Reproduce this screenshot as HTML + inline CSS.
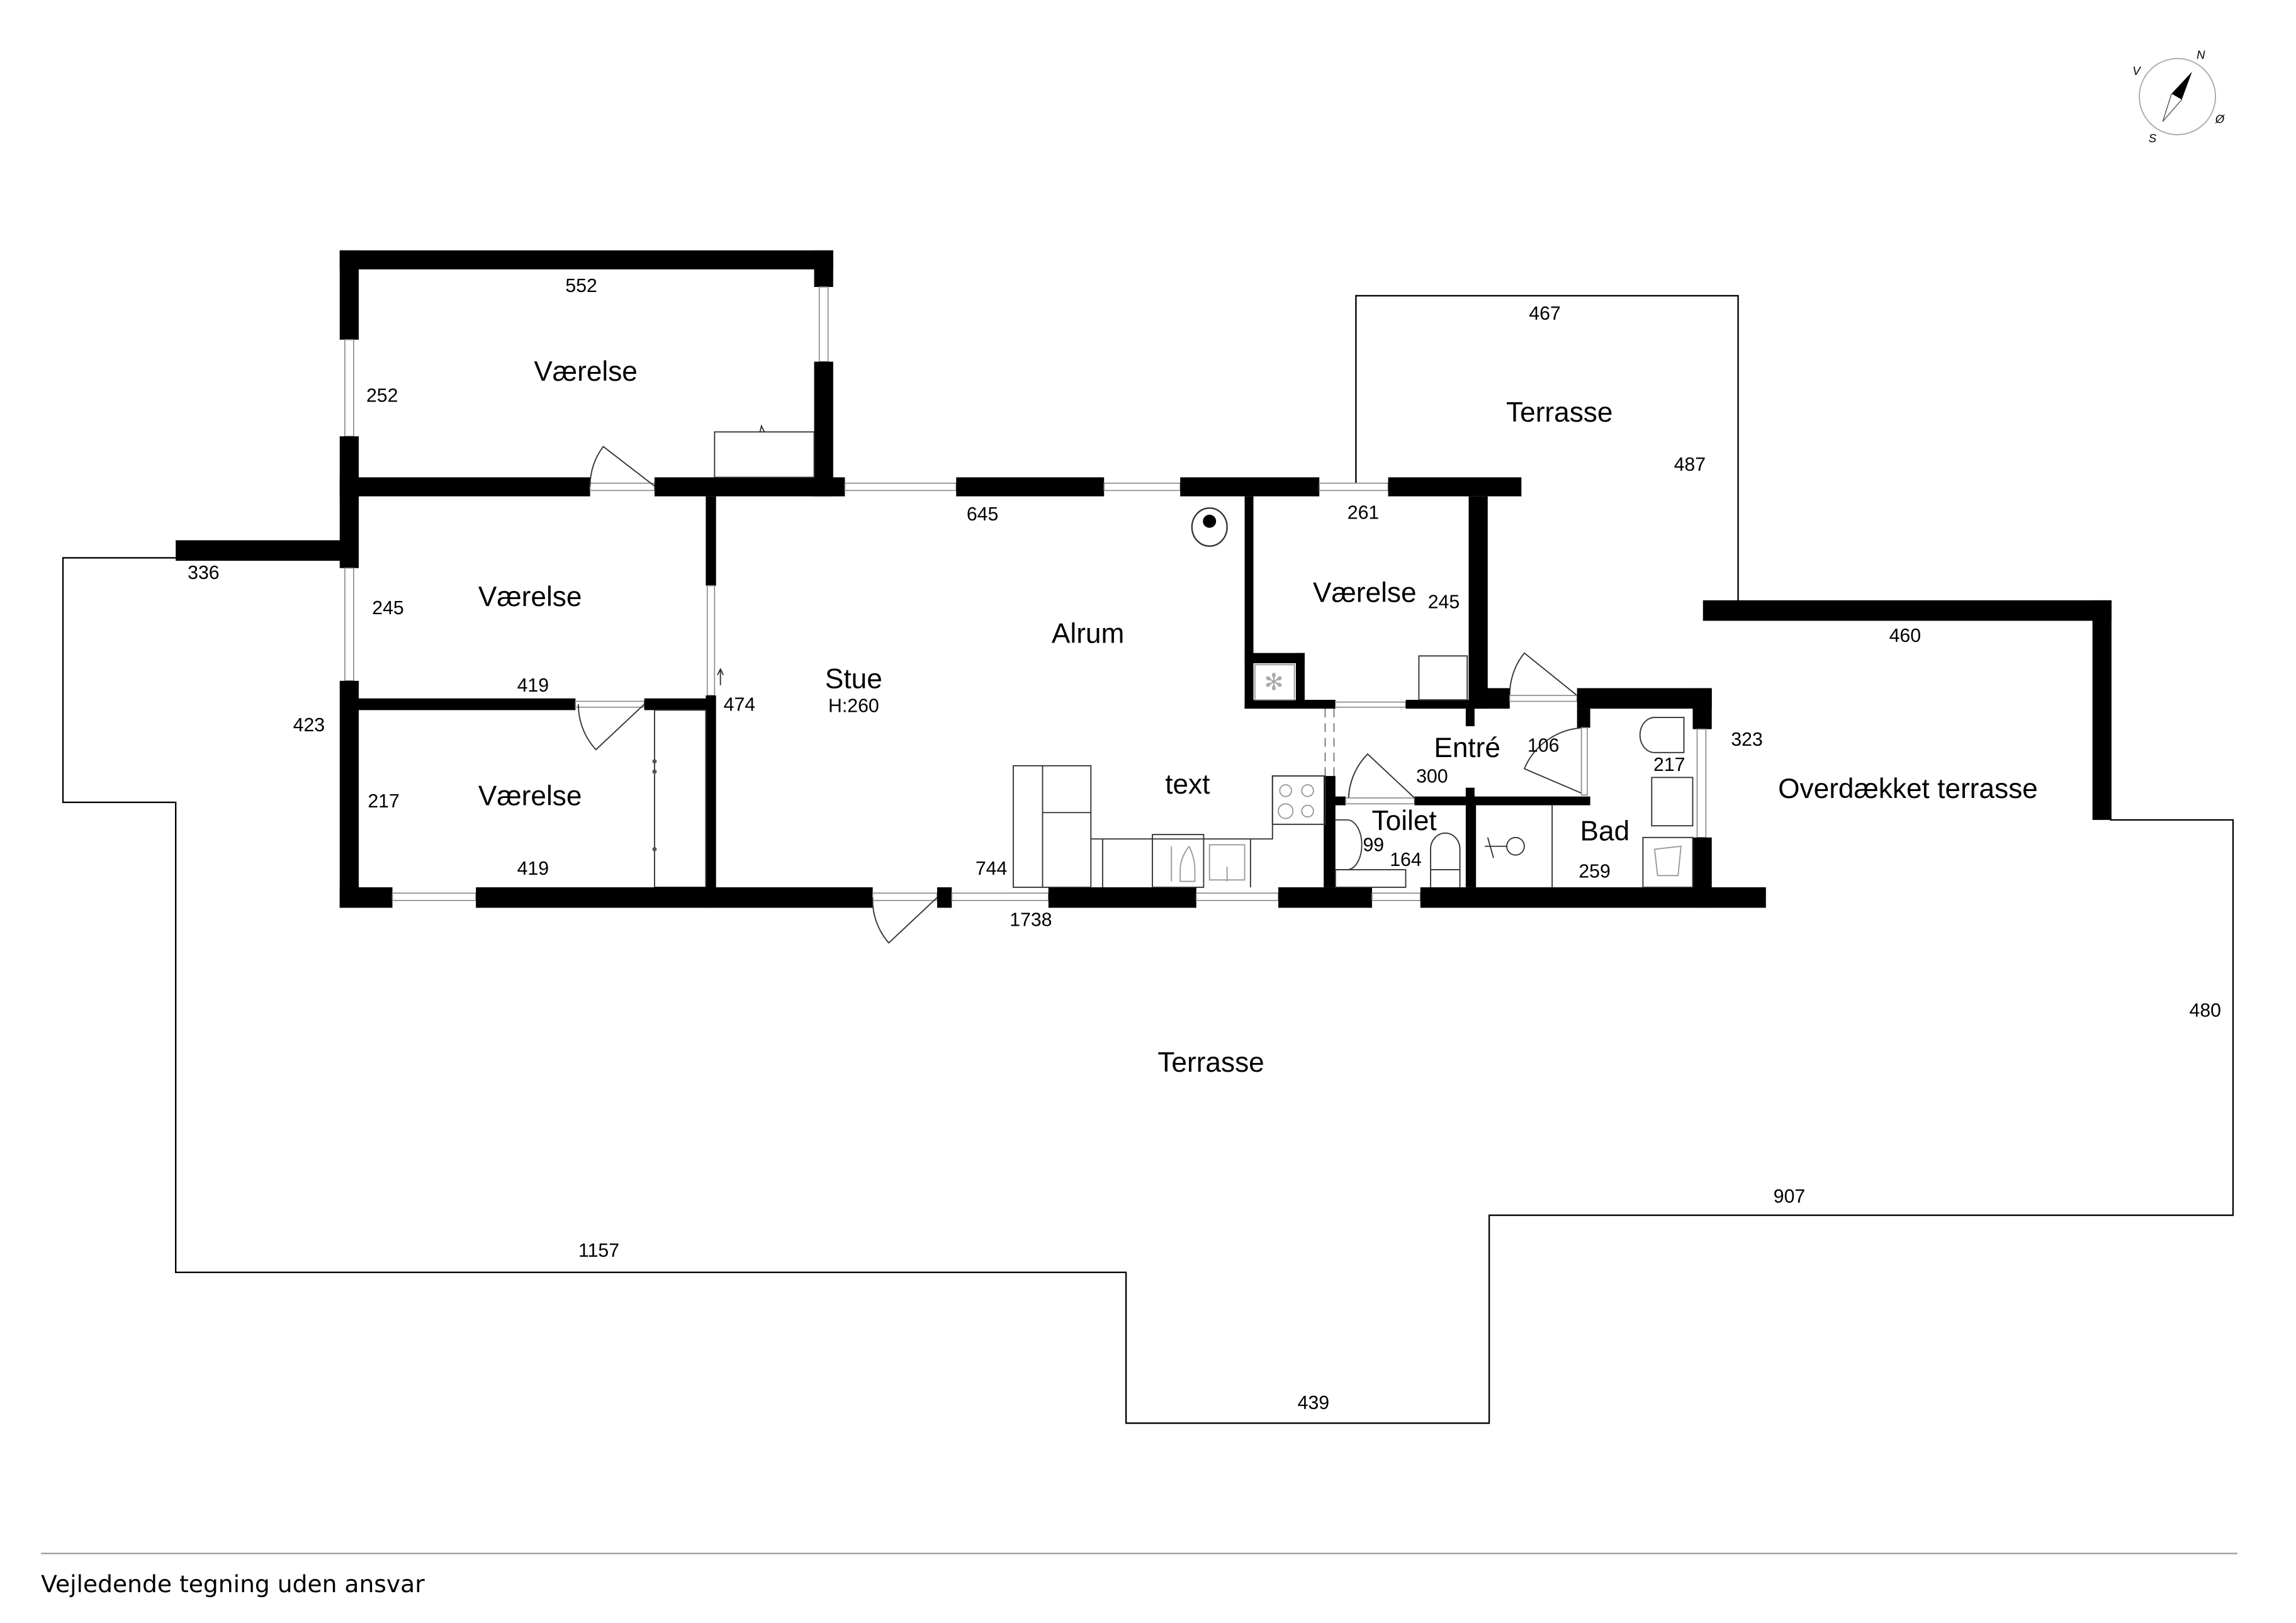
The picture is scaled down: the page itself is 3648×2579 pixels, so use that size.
<!DOCTYPE html>
<html><head><meta charset="utf-8"><style>
html,body{margin:0;padding:0;background:#fff;}
svg{display:block;}
text{font-family:"Liberation Sans",Arial,sans-serif;fill:#000;}
.r{font-size:19px;text-anchor:middle;dominant-baseline:middle;}
.d{font-size:13px;text-anchor:middle;dominant-baseline:middle;}
.w{fill:#000;}
.win{fill:#fff;stroke:#888;stroke-width:0.7;}
.ln{fill:none;stroke:#000;stroke-width:1;}
.th{fill:none;stroke:#333;stroke-width:0.8;}
.gr{fill:none;stroke:#999;stroke-width:0.8;}
</style></head><body>
<svg width="3648" height="2579" viewBox="0 0 1568 1108.5" preserveAspectRatio="none" xmlns="http://www.w3.org/2000/svg">
<rect x="0" y="0" width="1568" height="1108.5" fill="#fff"/>

<!-- outlines -->
<path class="ln" d="M120,381 L43,381 L43,548 L120,548 L120,869 L769,869 L769,972 L1017,972 L1017,830 L1525,830 L1525,560 L1441,560"/>
<path class="ln" d="M926,330 L926,202 L1187,202 L1187,411"/>

<!-- terrace thick wall -->
<rect class="w" x="1163" y="410" width="279" height="14"/>
<rect class="w" x="1429" y="410" width="13" height="150"/>

<!-- top bedroom -->
<rect class="w" x="232" y="171" width="337" height="13"/>
<rect class="w" x="556" y="171" width="13" height="25"/>
<rect class="win" x="559.5" y="196" width="6" height="51"/>
<rect class="w" x="556" y="247" width="13" height="92"/>
<rect class="w" x="232" y="171" width="13" height="61"/>
<rect class="win" x="235.5" y="232" width="6" height="66"/>
<rect class="w" x="232" y="298" width="13" height="90"/>
<rect class="w" x="120" y="369" width="125" height="14"/>
<rect class="win" x="235.5" y="388" width="6" height="77"/>
<rect class="w" x="232" y="465" width="13" height="155"/>

<!-- horizontal wall y326 -->
<rect class="w" x="232" y="326" width="171" height="13"/>
<rect class="win" x="403" y="330" width="44" height="5"/>
<rect class="w" x="447" y="326" width="130" height="13"/>
<rect class="win" x="577" y="330" width="76" height="5"/>
<rect class="w" x="653" y="326" width="101" height="13"/>
<rect class="win" x="754" y="330" width="52" height="5"/>
<rect class="w" x="806" y="326" width="95" height="13"/>
<rect class="win" x="901" y="330" width="47" height="5"/>
<rect class="w" x="948" y="326" width="91" height="13"/>

<!-- closet top room -->
<rect class="th" x="488" y="295" width="68" height="31"/>
<path class="th" d="M519,295 L520,291 L522,295"/>

<!-- stue left wall -->
<rect class="w" x="482" y="339" width="7" height="61"/>
<rect class="win" x="483" y="400" width="5" height="75"/>
<rect class="w" x="482" y="475" width="7" height="145"/>
<path class="th" d="M492,468 L492,458 M490,461 L492,457 L494,461"/>

<!-- bed2/bed3 wall -->
<rect class="w" x="245" y="477" width="148" height="8"/>
<rect class="win" x="393" y="479" width="47" height="4"/>
<rect class="w" x="440" y="477" width="48" height="8"/>
<!-- wardrobe -->
<rect class="th" x="447" y="485" width="35" height="121"/>
<circle cx="447" cy="520" r="1.5" fill="#555"/><circle cx="447" cy="527" r="1.5" fill="#555"/><circle cx="447" cy="580" r="1.5" fill="#555"/>

<!-- bottom wall -->
<rect class="w" x="232" y="606" width="36" height="14"/>
<rect class="win" x="268" y="610" width="57" height="5"/>
<rect class="w" x="325" y="606" width="271" height="14"/>
<rect class="win" x="596" y="610" width="44" height="5"/>
<rect class="w" x="640" y="606" width="10" height="14"/>
<rect class="win" x="650" y="610" width="66" height="5"/>
<rect class="w" x="716" y="606" width="101" height="14"/>
<rect class="win" x="817" y="610" width="56" height="5"/>
<rect class="w" x="873" y="606" width="64" height="14"/>
<rect class="win" x="937" y="610" width="33" height="5"/>
<rect class="w" x="970" y="606" width="236" height="14"/>

<!-- doors -->
<path class="th" d="M447,332 L412,305 A44,44 0 0,0 403,332"/>
<path class="th" d="M440,481 L407,512 A45,45 0 0,1 395,481"/>
<path class="th" d="M640,613 L607,644 A44,44 0 0,1 596,613"/>
<path class="th" d="M966,545 L934,515 A45,45 0 0,0 921,545"/>
<path class="th" d="M1077,475 L1041,446 A46,46 0 0,0 1031,475"/>
<path class="th" d="M1083,543 L1041,525 A46,46 0 0,1 1083,497"/>

<!-- right Værelse -->
<rect class="w" x="850" y="339" width="6" height="145"/>
<rect class="w" x="850" y="446" width="41" height="7"/>
<rect class="w" x="885" y="446" width="6" height="38"/>
<rect class="w" x="850" y="478" width="62" height="6"/>
<rect class="win" x="912" y="479.5" width="48" height="3.5"/>
<rect class="w" x="960" y="478" width="71" height="6"/>
<rect class="w" x="1003" y="339" width="13" height="145"/>
<rect class="w" x="1003" y="470" width="28" height="14"/>
<rect class="w" x="1001" y="484" width="6" height="12"/>
<rect class="gr" x="857" y="454" width="27" height="24"/>
<text x="870" y="467" style="font-size:16px;fill:#aaa" text-anchor="middle" dominant-baseline="middle">✻</text>
<rect class="th" x="969" y="448" width="33" height="30"/>
<ellipse class="th" cx="826" cy="360" rx="12" ry="13" style="stroke-width:1"/>
<circle cx="826" cy="356" r="4.5" fill="#000"/>

<!-- Entré window -->
<rect class="win" x="1031" y="475" width="46" height="4"/>

<!-- Bad -->
<rect class="w" x="1077" y="470" width="92" height="14"/>
<rect class="w" x="1156" y="470" width="13" height="28"/>
<rect class="win" x="1159" y="498" width="6" height="74"/>
<rect class="w" x="1156" y="572" width="13" height="48"/>
<rect class="w" x="1077" y="484" width="9" height="13"/>
<rect class="win" x="1080" y="497" width="4" height="46"/>
<path class="th" d="M1060,550 L1060,606"/>
<path class="th" d="M1150,490 L1130,490 A10,12 0 0,0 1130,514 L1150,514 Z M1150,490 L1150,514"/>
<rect class="th" x="1128" y="531" width="28" height="33"/>
<rect class="th" x="1122" y="572" width="34" height="34"/>
<path class="gr" d="M1130,580 L1148,578 L1146,598 L1132,598 Z"/>

<!-- lower interior walls -->
<rect class="w" x="905" y="544" width="14" height="6"/>
<rect class="win" x="919" y="545" width="47" height="4"/>
<rect class="w" x="966" y="544" width="120" height="6"/>
<rect class="w" x="1001" y="538" width="6" height="6"/>
<rect class="w" x="904" y="530" width="8" height="76"/>
<path d="M905,484 L905,530 M911,484 L911,530" stroke="#777" stroke-width="0.8" stroke-dasharray="6,4" fill="none"/>
<rect class="w" x="1001" y="544" width="7" height="62"/>

<!-- toilet fixtures -->
<path class="th" d="M912,560 L920,560 A10,17 0 0,1 920,594 L912,594"/>
<rect class="th" x="912" y="594" width="48" height="12"/>
<path class="th" d="M977,606 L977,580 A10,11 0 0,1 997,580 L997,606"/>
<line x1="977" y1="594" x2="997" y2="594" class="th"/>
<circle cx="1035" cy="578" r="6" class="th"/>
<path class="th" d="M1014,578 L1029,578 M1016,572 L1020,586"/>

<!-- kitchen -->
<rect class="th" x="692" y="523" width="53" height="83"/>
<line x1="712" y1="523" x2="712" y2="606" class="th"/>
<line x1="712" y1="555" x2="745" y2="555" class="th"/>
<path class="th" d="M745,573 L869,573 L869,563 L869,530 L905,530"/>
<rect class="th" x="869" y="530" width="36" height="33"/>
<circle cx="878" cy="540" r="4" class="gr"/><circle cx="893" cy="540" r="4" class="gr"/>
<circle cx="878" cy="554" r="5" class="gr"/><circle cx="893" cy="554" r="4" class="gr"/>
<line x1="753" y1="573" x2="753" y2="606" class="th"/>
<rect class="th" x="787" y="570" width="35" height="36"/>
<line x1="854" y1="573" x2="854" y2="606" class="th"/>
<path class="gr" d="M800,578 L800,602 M812,578 Q806,586 806,594 L806,602 L816,602 L816,594 Q816,586 812,578"/>
<rect class="gr" x="826" y="577" width="24" height="24"/>
<line x1="838" y1="592" x2="838" y2="602" class="gr"/>

<!-- labels -->
<text class="d" x="397" y="196">552</text>
<text class="r" x="400" y="255">Værelse</text>
<text class="d" x="261" y="271">252</text>
<text class="d" x="139" y="392">336</text>
<text class="r" x="362" y="409">Værelse</text>
<text class="d" x="265" y="416">245</text>
<text class="d" x="364" y="469">419</text>
<text class="d" x="211" y="496">423</text>
<text class="d" x="505" y="482">474</text>
<text class="r" x="583" y="465">Stue</text>
<text class="d" x="583" y="483">H:260</text>
<text class="r" x="743" y="434">Alrum</text>
<text class="d" x="671" y="352">645</text>
<text class="d" x="931" y="351">261</text>
<text class="r" x="932" y="406">Værelse</text>
<text class="d" x="986" y="412">245</text>
<text class="r" x="1065" y="283">Terrasse</text>
<text class="d" x="1055" y="215">467</text>
<text class="d" x="1154" y="318">487</text>
<text class="d" x="1301" y="435">460</text>
<text class="d" x="1193" y="506">323</text>
<text class="r" x="1303" y="540">Overdækket terrasse</text>
<text class="d" x="262" y="548">217</text>
<text class="r" x="362" y="545">Værelse</text>
<text class="d" x="364" y="594">419</text>
<text class="r" x="811" y="537">text</text>
<text class="r" x="1002" y="512">Entré</text>
<text class="d" x="1054" y="510">106</text>
<text class="d" x="978" y="531">300</text>
<text class="d" x="1140" y="523">217</text>
<text class="r" x="959" y="562">Toilet</text>
<text class="d" x="938" y="578">99</text>
<text class="d" x="960" y="588">164</text>
<text class="r" x="1096" y="569">Bad</text>
<text class="d" x="1089" y="596">259</text>
<text class="d" x="677" y="594">744</text>
<text class="d" x="704" y="629">1738</text>
<text class="r" x="827" y="727">Terrasse</text>
<text class="d" x="1506" y="691">480</text>
<text class="d" x="1222" y="818">907</text>
<text class="d" x="409" y="855">1157</text>
<text class="d" x="897" y="959">439</text>

<!-- compass -->
<circle cx="1487" cy="66" r="26" fill="none" stroke="#aaa" stroke-width="0.8"/>
<path d="M1497,49 L1483,64 L1490,68 Z" fill="#000"/>
<path d="M1483,64 L1477,83 L1490,68" fill="none" stroke="#555" stroke-width="0.6"/>
<text x="1503" y="38" style="font-size:8px;font-style:italic" text-anchor="middle" dominant-baseline="middle">N</text>
<text x="1459" y="49" style="font-size:8px;font-style:italic" text-anchor="middle" dominant-baseline="middle">V</text>
<text x="1516" y="82" style="font-size:8px;font-style:italic" text-anchor="middle" dominant-baseline="middle">Ø</text>
<text x="1470" y="95" style="font-size:8px;font-style:italic" text-anchor="middle" dominant-baseline="middle">S</text>

<!-- footer -->
<line x1="28" y1="1061" x2="1528" y2="1061" stroke="#999" stroke-width="1"/>
<text x="28" y="1083" style="font-size:16px;font-family:'DejaVu Sans','Liberation Sans',sans-serif" dominant-baseline="middle" textLength="262" lengthAdjust="spacingAndGlyphs">Vejledende tegning uden ansvar</text>
</svg>
</body></html>
